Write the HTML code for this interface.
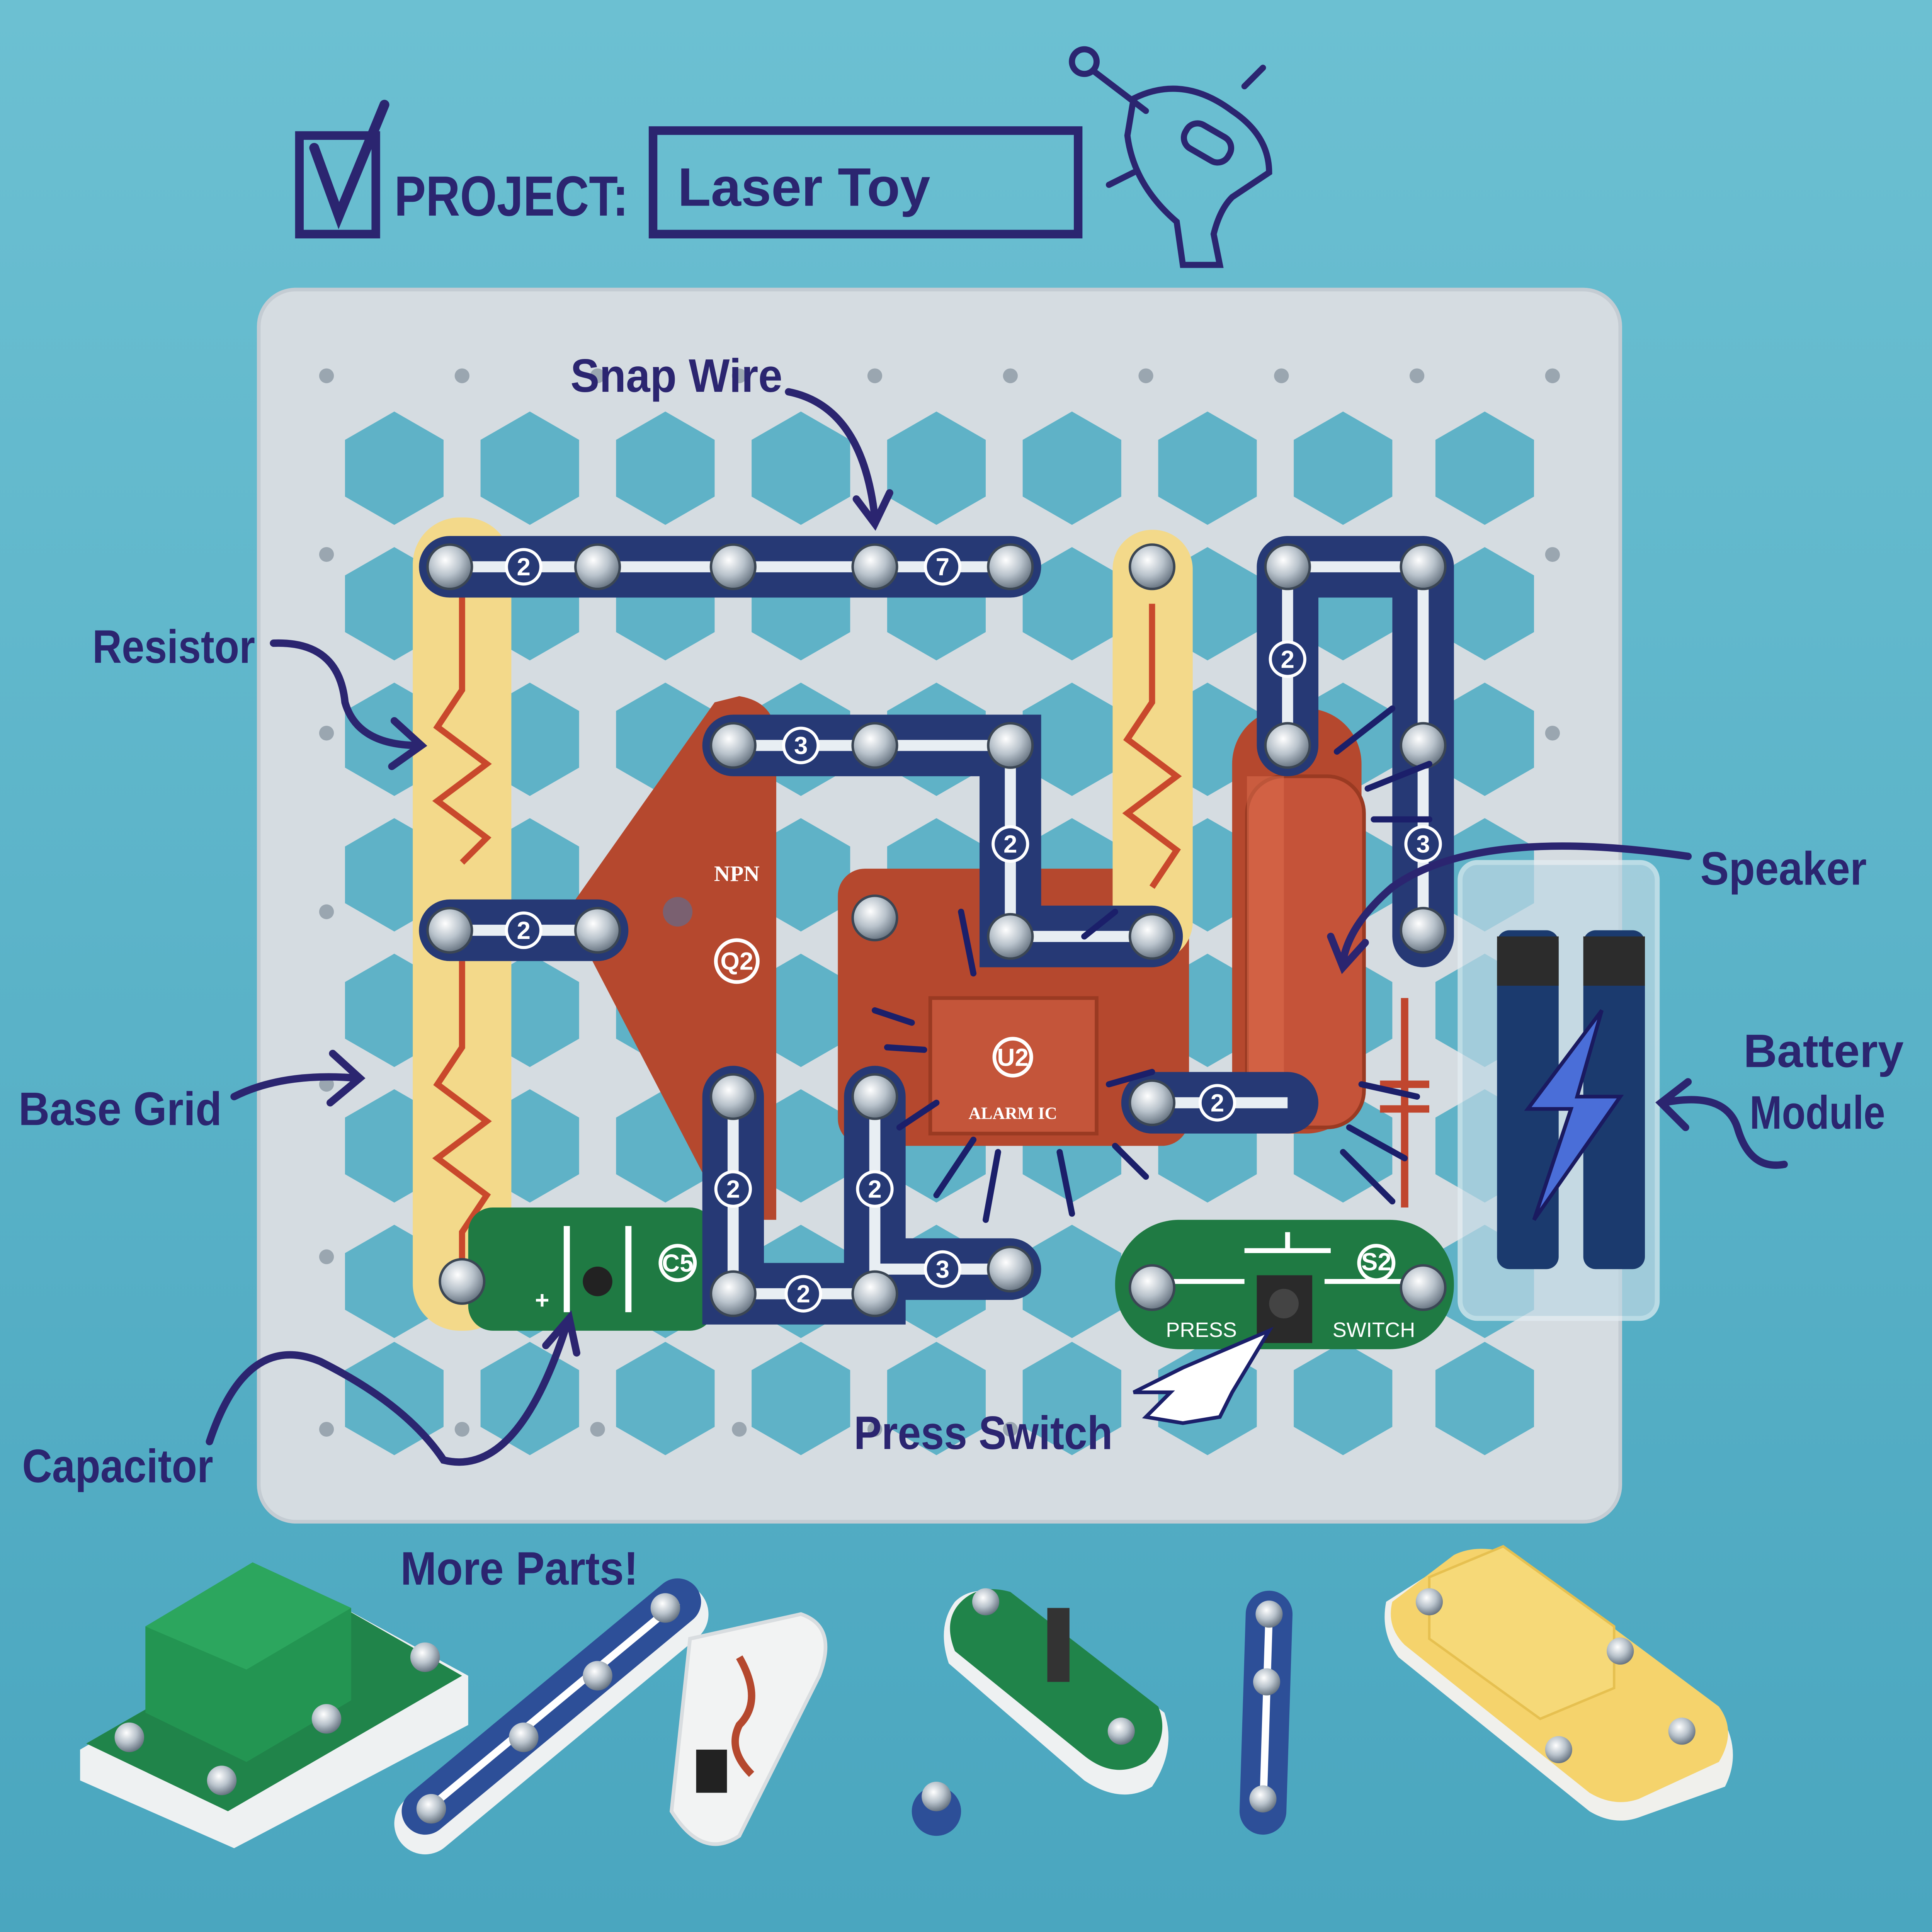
<!DOCTYPE html>
<html><head><meta charset="utf-8">
<style>
html,body{margin:0;padding:0;width:100%;height:100%;overflow:hidden;background:#5db3c8;}
svg{display:block;width:100vw;height:100vh;position:absolute;left:0;top:0}
.h{font-family:"Liberation Sans",sans-serif;font-weight:bold;fill:#2b2570}
.n{font-family:"Liberation Sans",sans-serif;font-weight:bold;fill:#fff;font-size:20px;text-anchor:middle}
</style></head>
<body>
<svg viewBox="0 0 1568 1568" preserveAspectRatio="none" xmlns="http://www.w3.org/2000/svg">
<defs>
<linearGradient id="bg" x1="0" y1="0" x2="0" y2="1"><stop offset="0" stop-color="#6cc0d2"/><stop offset="1" stop-color="#4aa6bf"/></linearGradient>
<radialGradient id="snap" cx="0.4" cy="0.35" r="0.7"><stop offset="0" stop-color="#ffffff"/><stop offset="0.5" stop-color="#b9c3cc"/><stop offset="1" stop-color="#5d6a78"/></radialGradient>
<polygon id="hex" points="0,-46 40,-23 40,23 0,46 -40,23 -40,-23"/>
<g id="row"><use href="#hex" x="320"/><use href="#hex" x="430"/><use href="#hex" x="540"/><use href="#hex" x="650"/><use href="#hex" x="760"/><use href="#hex" x="870"/><use href="#hex" x="980"/><use href="#hex" x="1090"/><use href="#hex" x="1205"/></g>
</defs>
<rect width="1568" height="1568" fill="url(#bg)"/>

<!-- Title -->
<rect x="243" y="110" width="62" height="80" fill="none" stroke="#2b2570" stroke-width="7"/>
<path d="M255 120 L275 175 L312 85" fill="none" stroke="#2b2570" stroke-width="8" stroke-linecap="round"/>
<text x="320" y="175" class="h" font-size="46" textLength="190" lengthAdjust="spacingAndGlyphs">PROJECT:</text>
<rect x="530" y="106" width="345" height="84" fill="none" stroke="#2b2570" stroke-width="7"/>
<text x="550" y="167" class="h" font-size="44" font-weight="normal" textLength="205" lengthAdjust="spacingAndGlyphs">Laser Toy</text>
<g fill="none" stroke="#2b2570" stroke-width="5" stroke-linecap="round">
<circle cx="880" cy="50" r="10"/><path d="M888 58 L930 90"/>
<path d="M920 80 Q960 60 1000 90 Q1030 110 1030 140 L1000 160 Q990 170 985 190 L990 215 L960 215 L955 180 Q920 150 915 110 Z"/>
<rect x="960" y="105" width="40" height="22" rx="10" transform="rotate(30 980 116)"/>
<path d="M1010 70 L1025 55 M920 140 L900 150"/>
</g>

<!-- Board -->
<rect x="210" y="235" width="1105" height="1000" rx="30" fill="#d5dce1" stroke="#c4ccd3" stroke-width="3"/>
<g fill="#5fb2c7">
<use href="#row" y="380"/><use href="#row" y="490"/><use href="#row" y="600"/><use href="#row" y="710"/><use href="#row" y="820"/><use href="#row" y="930"/><use href="#row" y="1040"/><use href="#row" y="1135"/>
</g>
<g fill="#9aa6b0">
<circle cx="265" cy="305" r="6"/><circle cx="375" cy="305" r="6"/><circle cx="485" cy="305" r="6"/><circle cx="600" cy="305" r="6"/><circle cx="710" cy="305" r="6"/><circle cx="820" cy="305" r="6"/><circle cx="930" cy="305" r="6"/><circle cx="1040" cy="305" r="6"/><circle cx="1150" cy="305" r="6"/><circle cx="1260" cy="305" r="6"/>
<circle cx="265" cy="1160" r="6"/><circle cx="375" cy="1160" r="6"/><circle cx="485" cy="1160" r="6"/><circle cx="600" cy="1160" r="6"/><circle cx="710" cy="1160" r="6"/><circle cx="820" cy="1160" r="6"/>
<circle cx="265" cy="450" r="6"/><circle cx="265" cy="595" r="6"/><circle cx="265" cy="740" r="6"/><circle cx="265" cy="880" r="6"/><circle cx="265" cy="1020" r="6"/>
<circle cx="1260" cy="450" r="6"/><circle cx="1260" cy="595" r="6"/>
</g>

<!-- NPN -->
<path d="M600 565 Q630 570 630 600 L630 700 L630 990 L590 990 L460 740 L580 570 Z" fill="#b5482e"/>
<text x="598" y="715" font-family="Liberation Serif" font-weight="bold" font-size="18" fill="#fff" text-anchor="middle">NPN</text>
<circle cx="598" cy="780" r="17" fill="none" stroke="#fff" stroke-width="3"/><text x="598" y="787" class="n" font-size="17">Q2</text>
<circle cx="550" cy="740" r="12" fill="#7a6070"/>
<!-- Alarm IC -->
<rect x="680" y="705" width="285" height="225" rx="22" fill="#b5482e"/>
<rect x="755" y="810" width="135" height="110" fill="#c4553a" stroke="#9a3a22" stroke-width="3"/>
<circle cx="822" cy="858" r="15" fill="none" stroke="#fff" stroke-width="3"/><text x="822" y="865" class="n" font-size="16">U2</text>
<text x="822" y="908" font-family="Liberation Serif" font-weight="bold" font-size="14" fill="#fff" text-anchor="middle">ALARM IC</text>
<!-- Speaker -->
<rect x="1000" y="575" width="105" height="345" rx="45" fill="#b5482e"/>
<rect x="1012" y="630" width="95" height="285" rx="30" fill="#c55339" stroke="#9a3a22" stroke-width="3"/>
<rect x="1012" y="630" width="30" height="285" fill="#e07050" opacity="0.5"/>
<g stroke="#c0462e" stroke-width="6" fill="none"><path d="M1140 810 L1140 980 M1120 880 L1160 880 M1120 900 L1160 900"/></g>

<!-- Resistors -->
<rect x="335" y="420" width="80" height="370" rx="38" fill="#f3d98a"/>
<rect x="335" y="715" width="80" height="365" rx="38" fill="#f3d98a"/>
<rect x="903" y="430" width="65" height="350" rx="32" fill="#f3d98a"/>
<g fill="none" stroke="#c9482c" stroke-width="5">
<path d="M375 480 L375 560 L355 590 L395 620 L355 650 L395 680 L375 700"/>
<path d="M375 780 L375 850 L355 880 L395 910 L355 940 L395 970 L375 1000 L375 1030"/>
<path d="M935 490 L935 570 L915 600 L955 630 L915 660 L955 690 L935 720"/>
</g>

<!-- Capacitor -->
<rect x="380" y="980" width="200" height="100" rx="20" fill="#1f7a43"/>
<path d="M460 995 L460 1065 M510 995 L510 1065" stroke="#fff" stroke-width="5"/>
<circle cx="485" cy="1040" r="12" fill="#222"/>
<text x="440" y="1062" class="n" font-size="22">+</text>
<circle cx="550" cy="1025" r="14" fill="none" stroke="#fff" stroke-width="3"/><text x="550" y="1032" class="n" font-size="14">C5</text>
<!-- Press switch -->
<rect x="905" y="990" width="275" height="105" rx="52" fill="#1f7a43"/>
<path d="M935 1040 L1010 1040 M1075 1040 L1155 1040 M1010 1015 L1080 1015 M1045 1000 L1045 1015" stroke="#fff" stroke-width="4"/>
<rect x="1020" y="1035" width="45" height="55" fill="#2a2a2a"/><circle cx="1042" cy="1058" r="12" fill="#444"/>
<text x="975" y="1085" font-family="Liberation Sans" font-size="17" fill="#fff" text-anchor="middle">PRESS</text>
<text x="1115" y="1085" font-family="Liberation Sans" font-size="17" fill="#fff" text-anchor="middle">SWITCH</text>
<circle cx="1117" cy="1025" r="14" fill="none" stroke="#fff" stroke-width="3"/><text x="1117" y="1031" class="n" font-size="14">S2</text>

<!-- Battery -->
<rect x="1185" y="700" width="160" height="370" rx="14" fill="#bfd8e4" opacity="0.7" stroke="#e4eef3" stroke-width="4"/>
<rect x="1215" y="755" width="50" height="275" rx="10" fill="#1b3a6e"/>
<rect x="1285" y="755" width="50" height="275" rx="10" fill="#1b3a6e"/>
<rect x="1215" y="760" width="50" height="40" fill="#2c2c2c"/><rect x="1285" y="760" width="50" height="40" fill="#2c2c2c"/>
<path d="M1300 820 L1240 900 L1275 900 L1245 990 L1315 890 L1280 890 Z" fill="#4a6ed8" stroke="#1a1a60" stroke-width="3"/>

<!-- Snap wires -->
<g stroke-linecap="round" fill="none">
<g stroke="#263975" stroke-width="50">
<path d="M365 460 L820 460"/><path d="M1045 460 L1155 460"/>
<path d="M1045 460 L1045 605"/><path d="M1155 460 L1155 760"/>
<path d="M595 605 L820 605 L820 760 L935 760"/>
<path d="M365 755 L485 755"/>
<path d="M595 890 L595 1050 L710 1050 L710 890"/>
<path d="M710 1030 L820 1030"/>
<path d="M935 895 L1045 895"/>
</g>
<g stroke="#e8eef3" stroke-width="9" stroke-linecap="butt">
<path d="M365 460 L820 460"/><path d="M1045 460 L1155 460"/>
<path d="M1045 460 L1045 605"/><path d="M1155 460 L1155 760"/>
<path d="M595 605 L820 605 L820 760 L935 760"/>
<path d="M365 755 L485 755"/>
<path d="M595 890 L595 1050 L710 1050 L710 890"/>
<path d="M710 1030 L820 1030"/>
<path d="M935 895 L1045 895"/>
</g>
</g>
<g fill="#263975" stroke="#fff" stroke-width="2.5">
<circle cx="425" cy="460" r="14"/><circle cx="765" cy="460" r="14"/><circle cx="1045" cy="535" r="14"/><circle cx="1155" cy="685" r="14"/>
<circle cx="650" cy="605" r="14"/><circle cx="820" cy="685" r="14"/><circle cx="425" cy="755" r="14"/>
<circle cx="595" cy="965" r="14"/><circle cx="710" cy="965" r="14"/><circle cx="652" cy="1050" r="14"/><circle cx="765" cy="1030" r="14"/><circle cx="988" cy="895" r="14"/>
</g>
<g class="n" font-size="18">
<text x="425" y="467">2</text><text x="765" y="467">7</text><text x="1045" y="542">2</text><text x="1155" y="692">3</text>
<text x="650" y="612">3</text><text x="820" y="692">2</text><text x="425" y="762">2</text>
<text x="595" y="972">2</text><text x="710" y="972">2</text><text x="652" y="1057">2</text><text x="765" y="1037">3</text><text x="988" y="902">2</text>
</g>
<g fill="url(#snap)" stroke="#3b4654" stroke-width="2">
<circle cx="365" cy="460" r="18"/><circle cx="485" cy="460" r="18"/><circle cx="595" cy="460" r="18"/><circle cx="710" cy="460" r="18"/><circle cx="820" cy="460" r="18"/><circle cx="935" cy="460" r="18"/><circle cx="1045" cy="460" r="18"/><circle cx="1155" cy="460" r="18"/>
<circle cx="1045" cy="605" r="18"/><circle cx="1155" cy="605" r="18"/><circle cx="1155" cy="755" r="18"/>
<circle cx="595" cy="605" r="18"/><circle cx="710" cy="605" r="18"/><circle cx="820" cy="605" r="18"/>
<circle cx="365" cy="755" r="18"/><circle cx="485" cy="755" r="18"/><circle cx="710" cy="745" r="18"/><circle cx="820" cy="760" r="18"/><circle cx="935" cy="760" r="18"/>
<circle cx="595" cy="890" r="18"/><circle cx="710" cy="890" r="18"/><circle cx="935" cy="895" r="18"/>
<circle cx="595" cy="1050" r="18"/><circle cx="710" cy="1050" r="18"/><circle cx="820" cy="1030" r="18"/>
<circle cx="375" cy="1040" r="18"/><circle cx="935" cy="1045" r="18"/><circle cx="1155" cy="1045" r="18"/>
</g>

<g stroke="#1b1f6a" stroke-width="5" stroke-linecap="round">
<path d="M1085 610 L1130 575"/><path d="M1110 640 L1160 620"/><path d="M1115 665 L1160 665"/>
<path d="M1105 880 L1150 890"/><path d="M1095 915 L1140 940"/><path d="M1090 935 L1130 975"/>
<path d="M710 820 L740 830"/><path d="M720 850 L750 852"/><path d="M730 915 L760 895"/><path d="M760 970 L790 925"/><path d="M800 990 L810 935"/><path d="M870 985 L860 935"/>
<path d="M905 930 L930 955"/><path d="M900 880 L935 870"/><path d="M880 760 L905 740"/><path d="M780 740 L790 790"/>
</g>

<!-- Labels -->
<g class="h" font-size="38" lengthAdjust="spacingAndGlyphs">
<text x="463" y="318" textLength="172" lengthAdjust="spacingAndGlyphs">Snap Wire</text>
<text x="75" y="538" textLength="132" lengthAdjust="spacingAndGlyphs">Resistor</text>
<text x="15" y="913" textLength="165" lengthAdjust="spacingAndGlyphs">Base Grid</text>
<text x="18" y="1203" textLength="155" lengthAdjust="spacingAndGlyphs">Capacitor</text>
<text x="693" y="1176" textLength="210" lengthAdjust="spacingAndGlyphs">Press Switch</text>
<text x="1380" y="718" textLength="135" lengthAdjust="spacingAndGlyphs">Speaker</text>
<text x="1415" y="866" textLength="130" lengthAdjust="spacingAndGlyphs">Battery</text>
<text x="1420" y="916" textLength="110" lengthAdjust="spacingAndGlyphs">Module</text>
<text x="325" y="1286" textLength="193" lengthAdjust="spacingAndGlyphs">More Parts!</text>
</g>
<g fill="none" stroke="#2b2570" stroke-width="6" stroke-linecap="round">
<path d="M640 318 Q700 330 710 420"/><path d="M695 405 L710 425 L722 400"/>
<path d="M222 522 Q275 520 280 570 Q290 605 340 605"/><path d="M320 585 L342 605 L318 622"/>
<path d="M190 890 Q230 870 290 875"/><path d="M270 855 L292 875 L268 895"/>
<path d="M170 1170 Q200 1080 260 1105 Q330 1140 360 1185 Q420 1200 460 1075"/><path d="M443 1092 L462 1070 L468 1098"/>
<path d="M1370 695 Q1200 670 1130 720 Q1095 750 1090 780"/><path d="M1080 760 L1090 785 L1108 765"/>
<path d="M1448 945 Q1420 950 1410 915 Q1400 885 1350 895"/><path d="M1370 878 L1348 895 L1368 915"/>
</g>
<g fill="#fff" stroke="#1b1f6a" stroke-width="3"><path d="M1030 1080 L960 1110 L920 1130 L950 1130 L930 1150 L960 1155 L990 1150 L1000 1130 Z"/></g>

<!-- More parts -->
<path d="M65 1420 L270 1300 L380 1360 L380 1400 L190 1500 L65 1445 Z" fill="#eef1f2"/>
<path d="M70 1415 L270 1300 L375 1360 L185 1470 Z" fill="#20844a"/>
<path d="M118 1320 L205 1268 L285 1305 L285 1380 L200 1430 L118 1390 Z" fill="#239552"/>
<path d="M118 1320 L205 1268 L285 1305 L200 1355 Z" fill="#2ca65e"/>
<g fill="url(#snap)"><circle cx="105" cy="1410" r="12"/><circle cx="180" cy="1445" r="12"/><circle cx="265" cy="1395" r="12"/><circle cx="345" cy="1345" r="12"/></g>
<path d="M345 1480 L550 1310" stroke="#eef1f2" stroke-width="50" stroke-linecap="round"/>
<path d="M345 1470 L550 1300" stroke="#2d4f98" stroke-width="38" stroke-linecap="round"/>
<path d="M345 1470 L550 1300" stroke="#fff" stroke-width="6"/>
<g fill="url(#snap)"><circle cx="350" cy="1468" r="12"/><circle cx="425" cy="1410" r="12"/><circle cx="485" cy="1360" r="12"/><circle cx="540" cy="1305" r="12"/></g>
<path d="M560 1330 L650 1310 Q680 1320 665 1360 L600 1490 Q570 1510 545 1470 Z" fill="#f2f3f3" stroke="#d9dde0" stroke-width="3"/>
<path d="M600 1345 Q620 1380 600 1400 Q590 1420 610 1440" fill="none" stroke="#b5482e" stroke-width="6"/>
<rect x="565" y="1420" width="25" height="35" fill="#222"/>
<circle cx="760" cy="1470" r="20" fill="#2d4f98"/><circle cx="760" cy="1458" r="12" fill="url(#snap)"/>
<path d="M775 1300 Q790 1285 820 1295 L945 1390 Q955 1420 935 1450 Q910 1465 880 1445 L770 1350 Q760 1320 775 1300 Z" fill="#eef1f2"/>
<path d="M780 1300 Q795 1285 820 1292 L940 1385 Q950 1410 930 1430 Q905 1445 880 1425 L775 1340 Q765 1315 780 1300 Z" fill="#20844a"/>
<rect x="850" y="1305" width="18" height="60" fill="#333"/>
<g fill="url(#snap)"><circle cx="800" cy="1300" r="11"/><circle cx="910" cy="1405" r="11"/></g>
<path d="M1030 1310 L1025 1470" stroke="#2d4f98" stroke-width="38" stroke-linecap="round"/>
<path d="M1030 1310 L1025 1470" stroke="#fff" stroke-width="6"/>
<g fill="url(#snap)"><circle cx="1030" cy="1310" r="11"/><circle cx="1028" cy="1365" r="11"/><circle cx="1025" cy="1460" r="11"/></g>
<path d="M1125 1300 L1180 1265 Q1200 1255 1230 1265 L1395 1390 Q1415 1420 1400 1450 L1330 1475 Q1310 1482 1290 1470 L1135 1345 Q1120 1325 1125 1300 Z" fill="#f0f0ec"/>
<path d="M1130 1300 L1180 1262 Q1200 1252 1230 1262 L1395 1385 Q1410 1405 1395 1430 L1330 1460 Q1310 1467 1290 1455 L1140 1335 Q1125 1320 1130 1300 Z" fill="#f5d36c"/>
<path d="M1160 1280 L1220 1255 L1310 1320 L1310 1370 L1250 1395 L1160 1330 Z" fill="#f6d978" stroke="#e6c050" stroke-width="2"/>
<g fill="url(#snap)"><circle cx="1160" cy="1300" r="11"/><circle cx="1315" cy="1340" r="11"/><circle cx="1265" cy="1420" r="11"/><circle cx="1365" cy="1405" r="11"/></g>
</svg>
</body></html>
